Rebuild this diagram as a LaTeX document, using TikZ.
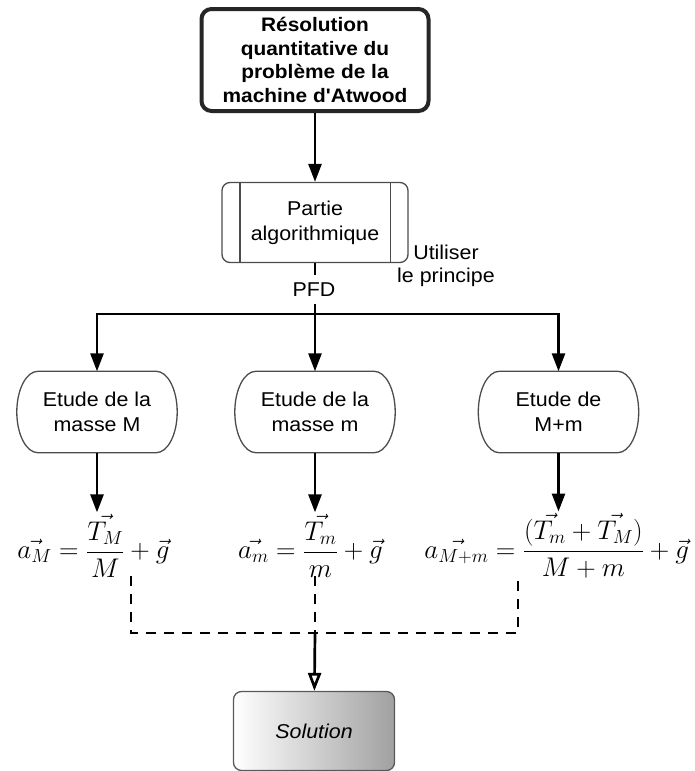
\documentclass[tikz,border=0pt]{standalone}
\usepackage{fix-cm}
\usepackage[no-math]{fontspec}
\setmainfont{Liberation Sans}[FakeStretch=1.07,Ligatures=TeXOff]
\usetikzlibrary{arrows.meta,calc}
\newcommand\myreg{\fontsize{20}{25}\selectfont}
\newcommand\mylab{\fontsize{20}{23}\selectfont}
\newcommand\mytitle{\fontsize{19.5}{23.5}\selectfont\bfseries}
\newcommand\mymath{\fontsize{27}{31}\selectfont}
\newcommand\etudeoutline[1]{%
 \draw[etudeline] ($(#1.north west)+(21,0)$) -- ($(#1.north east)+(-21,0)$)
   .. controls ($(#1.north east)+(-9.4,0)$) and ($(#1.east)+(0,-22.4)$) .. (#1.east)
   .. controls ($(#1.east)+(0,22.4)$) and ($(#1.south east)+(-9.4,0)$) .. ($(#1.south east)+(-21,0)$)
   -- ($(#1.south west)+(21,0)$)
   .. controls ($(#1.south west)+(9.4,0)$) and ($(#1.west)+(0,22.4)$) .. (#1.west)
   .. controls ($(#1.west)+(0,-22.4)$) and ($(#1.north west)+(9.4,0)$) .. cycle;}
\begin{document}
\begin{tikzpicture}[x=1pt,y=-1pt,
  topbox/.style={draw=black!85, line width=4pt, rounded corners=10pt,
    minimum width=227pt, minimum height=102pt, align=center, font=\mytitle, inner sep=0pt},
  procbox/.style={draw=black!70, line width=1.3pt, rounded corners=8pt,
    minimum width=186pt, minimum height=80pt, align=center, font=\myreg, inner sep=0pt},
  procline/.style={draw=black!70, line width=1.3pt},
  etudetext/.style={minimum width=160pt, minimum height=81pt, align=center, font=\myreg, inner sep=0pt},
  etudeline/.style={draw=black!70, line width=1.3pt},
  eqnode/.style={inner sep=2pt, font=\mymath},
  lab/.style={align=center, font=\mylab, inner sep=0pt},
  pfd/.style={font=\mylab, fill=white, inner xsep=2pt, inner ysep=7.5pt},
  plain/.style={line width=2.7pt},
  conn/.style={line width=2.7pt, -{Triangle[length=18pt,width=13pt]}},
  dashconn/.style={line width=2.7pt, dash pattern=on 10pt off 8pt},
  openconn/.style={line width=2.7pt, -{Triangle[open,length=18pt,width=13pt,fill=white]}},
  solbox/.style={draw=black!65, line width=1.3pt, rounded corners=8pt,
    left color=white, right color=black!37, minimum width=161pt, minimum height=79pt,
    font=\myreg\itshape, inner sep=0pt}
]
\useasboundingbox (0,0) rectangle (695,771);

% boxes
\node[topbox] (top) at (315,60) {Résolution\\quantitative du\\problème de la\\machine d'Atwood};
\node[procbox] (partie) at (315,222.5) {Partie\\algorithmique};
\draw[procline] ($(partie.north west)+(18.5,0)$) -- ($(partie.south west)+(18.5,0)$);
\draw[procline] ($(partie.north east)+(-18.5,0)$) -- ($(partie.south east)+(-18.5,0)$);

\node[etudetext] (e1) at (97,412) {Etude de la\\masse M};
\node[etudetext] (e2) at (315,412) {Etude de la\\masse m};
\node[etudetext] (e3) at (558.5,412) {Etude de\\M+m};
\etudeoutline{e1}
\etudeoutline{e2}
\etudeoutline{e3}

\node[eqnode] (q1) at (93.5,546) {$\displaystyle \vec{a_M} = \frac{\vec{T_M}}{M} + \vec{g}$};
\node[eqnode] (q2) at (310.5,546) {$\displaystyle \vec{a_m} = \frac{\vec{T_m}}{m} + \vec{g}$};
\node[eqnode] (q3) at (556.7,546) {$\displaystyle \vec{a_{M+m}} = \frac{(\vec{T_m} + \vec{T_M})}{M+m} + \vec{g}$};

\node[solbox] (sol) at (314,731) {Solution};

% connectors
\coordinate (jn) at (315,314);
\draw[conn] (top) -- (partie);
\draw[plain] (partie) -- (jn);
\node[pfd] (pfdl) at (314,289.5) {PFD};
\node[lab] (util) at (446,266) {Utiliser\\le principe};
\draw[conn] (jn) -| (e1);
\draw[conn] (jn) -| (e3);
\draw[conn] (jn) -- (e2);
\draw[conn] (e1) -- (e1 |- q1.north);
\draw[conn] (e2) -- (e2 |- q2.north);
\draw[conn] (e3) -- (e3 |- q3.north);

\coordinate (d1) at (131,576);
\coordinate (d2) at (315,576);
\coordinate (d3) at (518,577);
\coordinate (jd) at (315,633);
\draw[dashconn] (d1) |- (jd) -| (d3);
\draw[dashconn] (d2) -- (jd);
\draw[openconn] (jd) -- (sol);
\end{tikzpicture}
\end{document}
